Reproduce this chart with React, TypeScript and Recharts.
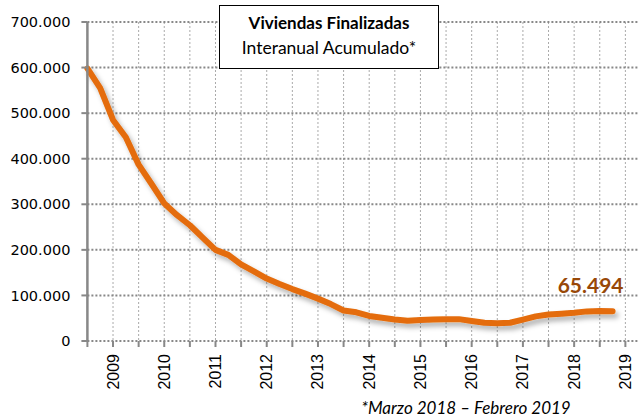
import { CartesianGrid, LabelList, Line, LineChart, XAxis, YAxis } from "recharts";

const periods = [
  2008.5, 2008.75, 2009, 2009.25, 2009.5, 2009.75, 2010, 2010.25, 2010.5, 2010.75,
  2011, 2011.25, 2011.5, 2011.75, 2012, 2012.25, 2012.5, 2012.75, 2013, 2013.25,
  2013.5, 2013.75, 2014, 2014.25, 2014.5, 2014.75, 2015, 2015.25, 2015.5, 2015.75,
  2016, 2016.25, 2016.5, 2016.75, 2017, 2017.25, 2017.5, 2017.75, 2018, 2018.25,
  2018.5, 2018.75,
];

const viviendas = [
  598000, 555000, 485000, 447000, 387000, 345000, 302000, 276000, 254000, 227000,
  200000, 189000, 168000, 153000, 137000, 125000, 114000, 104000, 93000, 81000,
  67000, 63000, 55000, 51000, 47000, 44500, 46000, 47000, 47500, 48000,
  44000, 40000, 39000, 40000, 47000, 54000, 58000, 60000, 62000, 65000,
  66000, 65494,
];

const yTicks = [0, 100000, 200000, 300000, 400000, 500000, 600000, 700000];
const xTicks = [
  2008.5, 2009, 2009.5, 2010, 2010.5, 2011, 2011.5, 2012, 2012.5, 2013, 2013.5,
  2014, 2014.5, 2015, 2015.5, 2016, 2016.5, 2017, 2017.5, 2018, 2018.5, 2019, 2019.5,
];

const data = periods.map((periodo, i) => ({ periodo, valor: viviendas[i] }));

const fmt = (v: number) => (v === 0 ? "0" : Math.round(v).toString().replace(/\B(?=(\d{3})+(?!\d))/g, "."));

function YearTick({ x, y, payload }: any) {
  if (!Number.isInteger(payload.value)) return <g />;
  return (
    <text
      transform={`translate(${x},${y + 5}) rotate(-90)`}
      textAnchor="end"
      dominantBaseline="central"
      fontSize={16}
      fontFamily="Liberation Sans"
      fill="#000"
    >
      {payload.value}
    </text>
  );
}

function LastLabel({ x, y, index, value }: any) {
  if (index !== viviendas.length - 1) return null;
  return (
    <text x={x - 22} y={y - 18} textAnchor="middle" fontSize={21} fontWeight="bold" fontFamily="Lato" fill="#984807">
      {fmt(value)}
    </text>
  );
}

export default function App() {
  return (
    <div style={{ position: "fixed", left: 0, top: 0, width: 638, height: 419, overflow: "hidden", background: "#fff" }}>
      <LineChart width={651} height={419} data={data} margin={{ top: 22, right: 0, bottom: 0, left: 0 }}>
        <defs>
          <filter id="shadow" x="-10%" y="-10%" width="130%" height="130%">
            <feDropShadow dx="3" dy="4" stdDeviation="2.5" floodColor="#000" floodOpacity="0.3" />
          </filter>
        </defs>
        <CartesianGrid horizontal={false} stroke="#aaa" strokeDasharray="2 2" />
        <CartesianGrid vertical={false} stroke="#888" strokeWidth={2} strokeDasharray="2 2" />
        <XAxis
          dataKey="periodo"
          type="number"
          domain={[2008.5, 2019.5]}
          ticks={xTicks}
          interval={0}
          height={78}
          tick={<YearTick />}
          tickSize={6}
          tickLine={{ stroke: "#888", strokeWidth: 2 }}
          axisLine={{ stroke: "#888", strokeWidth: 2.5, filter: "url(#shadow)" }}
        />
        <YAxis
          domain={[0, 700000]}
          ticks={yTicks}
          width={87.4}
          tickFormatter={fmt}
          tickSize={6}
          tickMargin={11}
          tick={{ fontSize: 14.5, fontFamily: "DejaVu Sans", fill: "#000" }}
          tickLine={{ stroke: "#888", strokeWidth: 2 }}
          axisLine={{ stroke: "#888", strokeWidth: 2.5 }}
        />
        <Line
          dataKey="valor"
          type="linear"
          stroke="#E46C0A"
          strokeWidth={6}
          strokeLinejoin="round"
          strokeLinecap="round"
          dot={false}
          filter="url(#shadow)"
          isAnimationActive={false}
        >
          <LabelList dataKey="valor" content={<LastLabel />} />
        </Line>
      </LineChart>
      <div
        style={{
          position: "absolute",
          left: 219,
          top: 5,
          width: 218,
          height: 58,
          border: "1px solid #000",
          background: "#fff",
          textAlign: "center",
          fontFamily: "Lato",
          fontSize: 17,
          lineHeight: "25px",
          paddingTop: 4,
          boxSizing: "content-box",
        }}
      >
        <div style={{ fontWeight: "bold" }}>Viviendas Finalizadas</div>
        <div style={{ fontSize: 17.5 }}>Interanual Acumulado*</div>
      </div>
      <div
        style={{
          position: "absolute",
          left: 355,
          top: 397,
          width: 222,
          textAlign: "center",
          fontFamily: "Lato",
          fontStyle: "italic",
          fontSize: 17,
          whiteSpace: "nowrap",
        }}
      >
        *Marzo 2018 – Febrero 2019
      </div>
    </div>
  );
}
